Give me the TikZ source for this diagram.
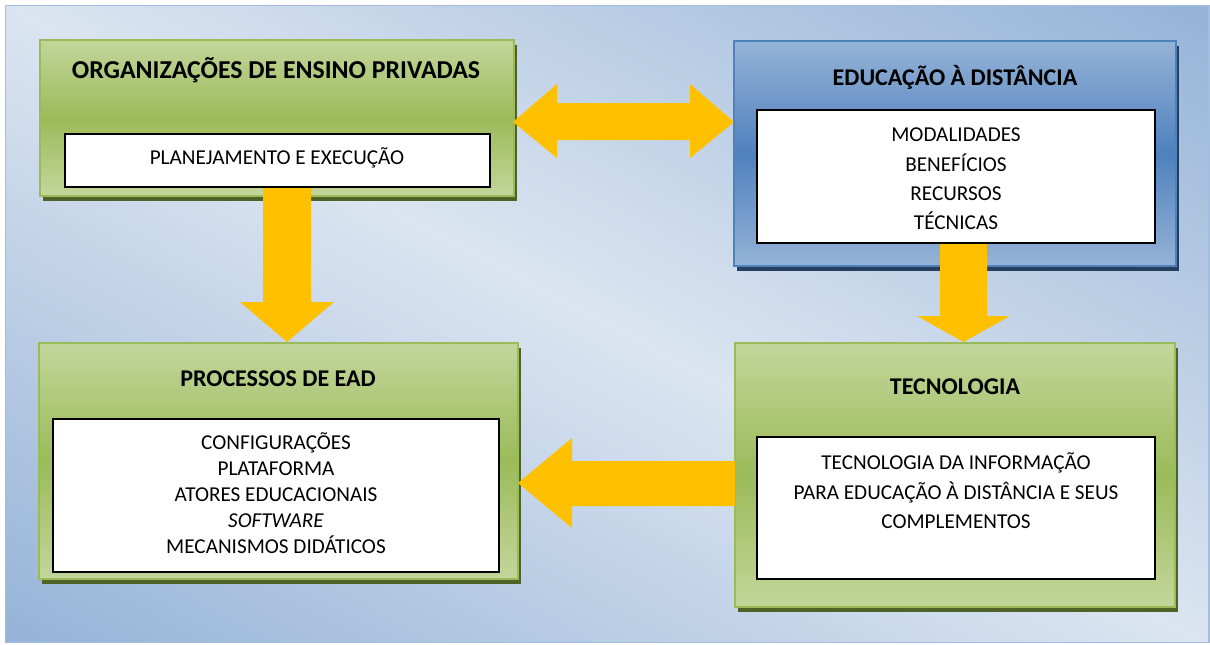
\documentclass[tikz,border=0pt]{standalone}
\usepackage{fontspec}
\setmainfont{Carlito}
\usetikzlibrary{shadows}
\definecolor{bglight}{HTML}{DBE5F1}
\definecolor{bgdark}{HTML}{95B3D7}
\definecolor{bgedge}{HTML}{A3BDDE}
\definecolor{grlight}{HTML}{C3D69B}
\definecolor{grmid}{HTML}{9BBB59}
\definecolor{grshadow}{HTML}{4F6228}
\definecolor{bllight}{HTML}{95B3D7}
\definecolor{blmid}{HTML}{4F81BD}
\definecolor{blshadow}{HTML}{243F60}
\definecolor{arrowc}{HTML}{FFC000}
\newcommand{\bodyfont}{\fontsize{21.2}{25}\selectfont}
\newcommand{\titlefont}{\fontsize{24}{28}\selectfont\bfseries}
\newcommand{\bigtitlefont}{\fontsize{25.8}{30}\selectfont\bfseries}
\tikzset{
  greenbox/.style={rectangle, inner sep=0, draw=grmid, line width=2pt,
    top color=grlight, bottom color=grlight, middle color=grmid,
    general shadow={fill=grshadow, shadow xshift=3pt, shadow yshift=-4.5pt}},
  bluebox/.style={rectangle, inner sep=0, draw=blmid, line width=2pt,
    top color=bllight, bottom color=bllight, middle color=blmid,
    general shadow={fill=blshadow, shadow xshift=3pt, shadow yshift=-4.5pt}},
  whitebox/.style={rectangle, inner sep=0, draw=black, line width=1.5pt, fill=white},
  titletext/.style={anchor=base, inner sep=0, font=\titlefont},
  linetext/.style={anchor=base, inner sep=0, font=\bodyfont},
  blockarrow/.style={fill=arrowc, draw=none}
}
\begin{document}
\begin{tikzpicture}[x=1pt,y=-1pt]
\useasboundingbox (0,0) rectangle (1210,645);
% background: light band along the main diagonal, darker towards top-right and bottom-left
\begin{scope}
  \clip (5.5,5.5) rectangle (1209,642.5);
  \shade[transform canvas={shift={(607.25,324)}, rotate=-28},
    top color=bgdark, bottom color=bgdark, middle color=bglight]
    (-900,-566) rectangle (900,566);
\end{scope}
\draw[bgedge, line width=1.5pt] (5.5,5.5) rectangle (1209,642.5);

% outer boxes
\node[greenbox, minimum width=474pt, minimum height=156pt] (b1) at (277,118) {};
\node[bluebox, minimum width=442pt, minimum height=225pt] (b2) at (955,153.5) {};
\node[greenbox, minimum width=479pt, minimum height=236pt] (b3) at (278.5,461) {};
\node[greenbox, minimum width=440pt, minimum height=264pt] (b4) at (955,475) {};

% block arrows
\coordinate (t1) at (513,122);
\coordinate (t2) at (734,122);
\fill[blockarrow] (t1) -- (557,84) -- (557,103) -- (690,103) -- (690,84) -- (t2)
  -- (690,158) -- (690,140) -- (557,140) -- (557,158) -- cycle;
\coordinate (d1) at (287,342);
\fill[blockarrow] (263,187) -- (311,187) -- (311,302) -- (334,302) -- (d1)
  -- (240,302) -- (263,302) -- cycle;
\coordinate (d2) at (963.5,342);
\fill[blockarrow] (940,243) -- (987,243) -- (987,316) -- (1010,316) -- (d2)
  -- (917,316) -- (940,316) -- cycle;
\coordinate (l1) at (518,483);
\fill[blockarrow] (735,461) -- (572,461) -- (572,438) -- (l1) -- (572,528)
  -- (572,506) -- (735,506) -- cycle;

% inner white boxes
\node[whitebox, minimum width=425pt, minimum height=53pt] (w1) at (277.5,160.5) {};
\node[whitebox, minimum width=398pt, minimum height=133pt] (w2) at (956,176.5) {};
\node[whitebox, minimum width=446pt, minimum height=153pt] (w3) at (276,495.5) {};
\node[whitebox, minimum width=398pt, minimum height=142pt] (w4) at (956,508) {};

% texts
\node[titletext, font=\bigtitlefont] (h1) at (276,78.2) {ORGANIZAÇÕES DE ENSINO PRIVADAS};
\node[linetext] (p1) at (277,164.6) {PLANEJAMENTO E EXECUÇÃO};

\node[titletext] (h2) at (955,85.6) {EDUCAÇÃO À DISTÂNCIA};
\node[linetext] (e1) at (956,141.6) {MODALIDADES};
\node[linetext] (e2) at (956,171.6) {BENEFÍCIOS};
\node[linetext] (e3) at (956,200.6) {RECURSOS};
\node[linetext] (e4) at (956,229.6) {TÉCNICAS};

\node[titletext] (h3) at (278,386.6) {PROCESSOS DE EAD};
\node[linetext] (c1) at (276,449.6) {CONFIGURAÇÕES};
\node[linetext] (c2) at (276,475.6) {PLATAFORMA};
\node[linetext] (c3) at (276,501.6) {ATORES EDUCACIONAIS};
\node[linetext] (c4) at (276,527.6) {\itshape SOFTWARE};
\node[linetext] (c5) at (276,553.6) {MECANISMOS DIDÁTICOS};

\node[titletext] (h4) at (955,394.6) {TECNOLOGIA};
\node[linetext] (g1) at (956,469.6) {TECNOLOGIA DA INFORMAÇÃO};
\node[linetext] (g2) at (956,499.6) {PARA EDUCAÇÃO À DISTÂNCIA E SEUS};
\node[linetext] (g3) at (956,528.6) {COMPLEMENTOS};
\end{tikzpicture}
\end{document}
